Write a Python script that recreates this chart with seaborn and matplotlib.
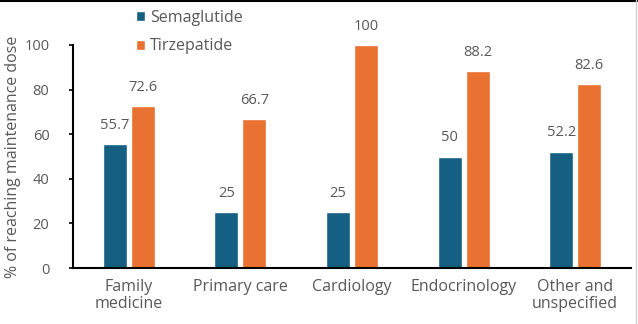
import matplotlib
matplotlib.use("Agg")
import matplotlib.pyplot as plt
from matplotlib.lines import Line2D
import seaborn as sns
import pandas as pd

categories = ["Family\nmedicine", "Primary care", "Cardiology", "Endocrinology", "Other and\nunspecified"]
semaglutide = [55.7, 25, 25, 50, 52.2]
tirzepatide = [72.6, 66.7, 100, 88.2, 82.6]
series_names = ["Semaglutide", "Tirzepatide"]
colors = ["#156082", "#E97132"]

df = pd.DataFrame({
    "category": categories * 2,
    "value": semaglutide + tirzepatide,
    "drug": [series_names[0]] * len(categories) + [series_names[1]] * len(categories),
})

sns.set_theme(style="white")
plt.rcParams["font.family"] = ["Open Sans", "DejaVu Sans"]
text_color = "#595959"

fig = plt.figure(figsize=(6.38, 3.24), dpi=100)
ax = fig.add_axes([73/638, 1 - 268/324, (631 - 73)/638, (268 - 45)/324])

sns.barplot(data=df, x="category", y="value", hue="drug", palette=colors,
            width=0.5, gap=0.14, ax=ax, legend=True, saturation=1)

ax.set_ylim(0, 100)
ax.set_xlim(-0.5, 4.5)
ax.set_yticks([0, 20, 40, 60, 80, 100])
ax.tick_params(axis="y", direction="out", length=3, width=1.2, color="black",
               labelsize=10.5, labelcolor=text_color, pad=14, left=True)
ax.tick_params(axis="x", length=0, labelsize=11.5, labelcolor=text_color, pad=8)
for lbl in ax.get_xticklabels():
    lbl.set_linespacing(1.1)
ax.set_xlabel("")
ax.set_ylabel("% of reaching maintenance dose", fontsize=11.5, color=text_color)
ax.yaxis.set_label_coords(-52/558, 0.5)

for s in ["top", "right"]:
    ax.spines[s].set_visible(False)
for s in ["left", "bottom"]:
    ax.spines[s].set_color("black")
    ax.spines[s].set_linewidth(1.5)

for cont in ax.containers:
    labels = [("%g" % v) for v in cont.datavalues]
    t = ax.bar_label(cont, labels=labels, padding=8, fontsize=10.5, color=text_color)
    for tt in t:
        tt.set_clip_on(False)

leg = ax.legend(loc="upper left", bbox_to_anchor=(126/638, 1.0), bbox_transform=fig.transFigure,
                frameon=False, fontsize=11.5, handlelength=0.6, handleheight=0.6,
                handletextpad=0.3, labelspacing=0.8, borderpad=0.1)
for t in leg.get_texts():
    t.set_color(text_color)

fig.add_artist(Line2D([0, 1], [1 - 0.5/324, 1 - 0.5/324], transform=fig.transFigure, color="black", lw=1.5))
fig.add_artist(Line2D([1 - 2/638, 1 - 2/638], [0, 1], transform=fig.transFigure, color="#d0d0d0", lw=1))

fig.savefig("out.png", dpi=100)
